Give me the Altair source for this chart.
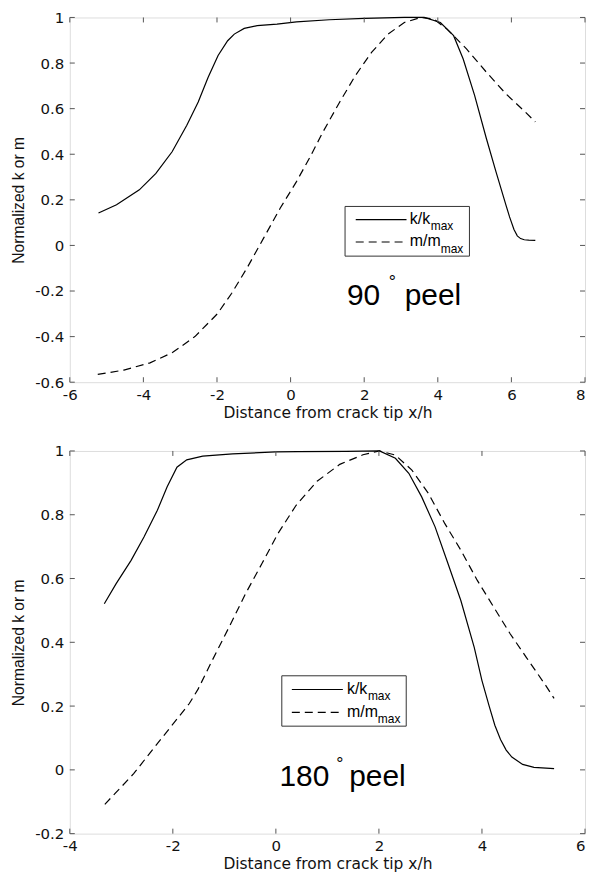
import altair as alt
import pandas as pd

# ---------------- 90 degree peel (top panel) ----------------
k90_x = [-5.22, -4.73, -4.11, -3.66, -3.22, -2.82, -2.51, -2.24, -1.97, -1.71, -1.53, -1.26,
         -0.91, -0.37, 0.16, 1.05, 2.0, 3.09, 3.63, 4.07, 4.43, 4.69, 5.0, 5.32, 5.58, 5.85,
         5.95, 6.07, 6.16, 6.25, 6.35, 6.47, 6.65]
k90_y = [0.142, 0.178, 0.244, 0.316, 0.411, 0.527, 0.629, 0.738, 0.833, 0.898, 0.927, 0.952,
         0.964, 0.971, 0.981, 0.99, 0.996, 1.0, 1.0, 0.978, 0.92, 0.818, 0.658, 0.469, 0.324, 0.178,
         0.125, 0.07, 0.042, 0.030, 0.025, 0.023, 0.022]
m90_x = [-5.24, -4.53, -3.82, -3.21, -2.60, -1.99, -1.60, -1.17, -0.73, -0.28, 0.16, 0.52, 0.87,
         1.32, 1.76, 2.2, 2.65, 3.09, 3.54, 3.89, 4.25, 4.78, 5.32, 5.85, 6.38, 6.65]
m90_y = [-0.566, -0.547, -0.515, -0.470, -0.400, -0.300, -0.210, -0.095, 0.033, 0.164, 0.28, 0.385,
         0.495, 0.625, 0.745, 0.847, 0.927, 0.978, 1.0, 0.993, 0.949, 0.862, 0.76, 0.665, 0.585, 0.542]
x_ticks_90 = [-6, -4, -2, 0, 2, 4, 6, 8]
y_ticks_90 = [-0.6, -0.4, -0.2, 0, 0.2, 0.4, 0.6, 0.8, 1]

# ---------------- 180 degree peel (bottom panel) ----------------
k180_x = [-3.33, -3.10, -2.81, -2.56, -2.30, -2.11, -1.92, -1.73, -1.42, -0.84, 0.0, 0.42, 1.37,
          2.01, 2.32, 2.58, 2.83, 3.09, 3.34, 3.59, 3.85, 4.0, 4.14, 4.25, 4.36, 4.47, 4.58,
          4.79, 5.01, 5.40]
k180_y = [0.521, 0.584, 0.657, 0.730, 0.814, 0.888, 0.949, 0.972, 0.984, 0.991, 0.997, 0.998, 0.999,
          1.0, 0.977, 0.93, 0.856, 0.762, 0.647, 0.531, 0.384, 0.28, 0.20, 0.14, 0.095, 0.062, 0.04,
          0.017, 0.008, 0.004]
m180_x = [-3.32, -3.12, -2.76, -2.40, -2.04, -1.68, -1.51, -1.23, -0.91, -0.59, -0.27, 0.04, 0.39,
          0.8, 1.24, 1.69, 2.01, 2.32, 2.64, 2.96, 3.28, 3.59, 3.91, 4.23, 4.55, 4.86, 5.24, 5.40]
m180_y = [-0.108, -0.074, -0.012, 0.062, 0.135, 0.208, 0.253, 0.345, 0.447, 0.552, 0.647, 0.741, 0.829,
          0.905, 0.958, 0.988, 1.0, 0.987, 0.94, 0.867, 0.772, 0.689, 0.594, 0.51, 0.426, 0.353, 0.264, 0.224]
x_ticks_180 = [-4, -2, 0, 2, 4, 6]
y_ticks_180 = [-0.2, 0, 0.2, 0.4, 0.6, 0.8, 1]

x_title = "Distance from crack tip x/h"
y_title = "Normalized k or m"
legend_k = ["k/k", "max"]
legend_m = ["m/m", "max"]

AX = "#111111"
FRAME = "#555555"
ONE = pd.DataFrame({"a": [0]})


def panel(W, H, xdom, ydom, xt, yt, kx, ky, mx, my, box, line_x, ly_k, ly_m, txt_x,
          ann_x, ann_y, ann_num, deg_dx, peel_dx):
    xsc = alt.Scale(domain=xdom, nice=False, zero=False)
    ysc = alt.Scale(domain=ydom, nice=False, zero=False)
    fix = "replace(format(datum.value, '~g'), '\u2212', '-')"
    last = xt[-1]
    xax = alt.Axis(values=xt, tickSize=0, domain=False, grid=False, labelPadding=5,
                   labelFont="DejaVu Sans", labelFontSize=15, labelColor=AX, labelExpr=fix,
                   labelAlign={"condition": {"test": f"datum.value == {last}", "value": "right"},
                               "value": "center"},
                   title=x_title, titleFont="DejaVu Sans", titleFontSize=15.5,
                   titleFontWeight="normal", titleColor=AX, titlePadding=3)
    yax = alt.Axis(values=yt, tickSize=0, domain=False, grid=False, labelPadding=6,
                   labelFont="DejaVu Sans", labelFontSize=15, labelColor=AX, labelExpr=fix,
                   title=y_title, titleFont="Liberation Sans", titleFontSize=15.7,
                   titleFontWeight="normal", titleColor=AX, titlePadding=8)
    X = lambda f: alt.X(f, scale=xsc, axis=xax)
    Y = lambda f: alt.Y(f, scale=ysc, axis=yax)

    kdf = pd.DataFrame({"x": kx, "y": ky, "o": range(len(kx))})
    mdf = pd.DataFrame({"x": mx, "y": my, "o": range(len(mx))})
    k_line = alt.Chart(kdf).mark_line(color="black", strokeWidth=1.2).encode(
        x=X("x:Q"), y=Y("y:Q"), order="o:Q")
    m_line = alt.Chart(mdf).mark_line(color="black", strokeWidth=1.2, strokeDash=[8, 5]).encode(
        x=X("x:Q"), y=Y("y:Q"), order="o:Q")

    xtdf = pd.DataFrame({"x": xt})
    ytdf = pd.DataFrame({"y": yt})
    tk = dict(color=FRAME, strokeWidth=1)
    xb = alt.Chart(xtdf).mark_rule(**tk).encode(
        x=X("x:Q"), y=alt.value(H), y2=alt.value(H - 5))
    xtp = alt.Chart(xtdf).mark_rule(**tk).encode(
        x=X("x:Q"), y=alt.value(0), y2=alt.value(5))
    yl = alt.Chart(ytdf).mark_rule(**tk).encode(
        y=Y("y:Q"), x=alt.value(0), x2=alt.value(5))
    yr = alt.Chart(ytdf).mark_rule(**tk).encode(
        y=Y("y:Q"), x=alt.value(W - 5), x2=alt.value(W))

    # legend box
    rect = alt.Chart(ONE).mark_rect(fill="white", stroke="#333333", strokeWidth=1).encode(
        x=alt.datum(box[0]), x2=alt.datum(box[1]),
        y=alt.datum(box[2]), y2=alt.datum(box[3]))
    lk = alt.Chart(ONE).mark_rule(color="black", strokeWidth=1.2).encode(
        x=alt.datum(line_x[0]), x2=alt.datum(line_x[1]), y=alt.datum(ly_k))
    lm = alt.Chart(ONE).mark_rule(color="black", strokeWidth=1.2, strokeDash=[8, 5]).encode(
        x=alt.datum(line_x[0]), x2=alt.datum(line_x[1]), y=alt.datum(ly_m))

    def txt(s, xv, yv, size, dx=0, dy=0, font="Liberation Sans"):
        return alt.Chart(ONE).mark_text(text=s, align="left", baseline="alphabetic", font=font,
                                        fontSize=size, color="black", dx=dx, dy=dy).encode(
            x=alt.datum(xv), y=alt.datum(yv))

    t1 = txt(legend_k[0], txt_x, ly_k, 16, dy=4.5)
    t1s = txt(legend_k[1], txt_x, ly_k, 12, dx=21, dy=10.5)
    t2 = txt(legend_m[0], txt_x, ly_m, 16, dy=4.5)
    t2s = txt(legend_m[1], txt_x, ly_m, 12, dx=31, dy=11)

    a1 = txt(ann_num, ann_x, ann_y, 30)
    a2 = txt("\u00b0", ann_x, ann_y, 18, dx=deg_dx, dy=-17)
    a3 = txt("peel", ann_x, ann_y, 30, dx=peel_dx)

    return alt.layer(k_line, m_line, xb, xtp, yl, yr, rect, lk, lm, t1, t1s, t2, t2s,
                     a1, a2, a3).properties(width=W, height=H)


top = panel(517, 366, [-6, 8], [-0.6, 1], x_ticks_90, y_ticks_90, k90_x, k90_y, m90_x, m90_y,
            box=[1.48, 4.86, 0.171, -0.047], line_x=[1.77, 3.15], ly_k=0.113, ly_m=0.015,
            txt_x=3.24, ann_x=1.53, ann_y=-0.26, ann_num="90", deg_dx=42, peel_dx=58)

bottom = panel(517, 384, [-4, 6], [-0.2, 1], x_ticks_180, y_ticks_180, k180_x, k180_y,
               m180_x, m180_y, box=[0.115, 2.53, 0.295, 0.137], line_x=[0.31, 1.30],
               ly_k=0.252, ly_m=0.18, txt_x=1.38, ann_x=0.07, ann_y=-0.052, ann_num="180",
               deg_dx=57, peel_dx=70)

chart = alt.vconcat(top, bottom, spacing=22).properties(
    padding={"left": 2, "top": 0, "right": 0, "bottom": -1}
).configure_view(stroke=FRAME, strokeWidth=1).configure(background="white")

chart.save("out.html", embed_options={"renderer": "svg", "actions": False})
